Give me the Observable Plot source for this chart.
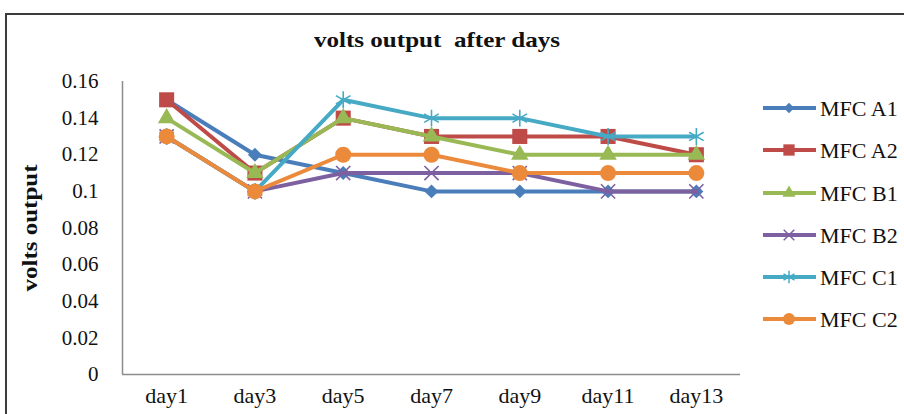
<!DOCTYPE html>
<html>
<head>
<meta charset="utf-8">
<script src="https://cdn.jsdelivr.net/npm/d3@7"></script>
<script src="https://cdn.jsdelivr.net/npm/@observablehq/plot@0.6"></script>
<style>
  html, body { margin: 0; padding: 0; background: #fff; }
  #wrap { position: relative; width: 904px; height: 414px; overflow: hidden; background: #fff; font-family: "Liberation Serif", serif; }
  #chart { position: absolute; left: 0; top: 0; }
  #border { position: absolute; left: 5px; top: 13px; width: 1000px; height: 600px; border-left: 2px solid #3c3c3c; border-top: 2px solid #3c3c3c; pointer-events: none; }
  #title { position: absolute; left: 0; width: 874px; top: 27px; text-align: center; font-weight: bold; font-size: 22px; color: #111; transform: scaleX(1.14); transform-origin: 437px 50%; }
  #ylabel { position: absolute; left: 30px; top: 228px; transform: translate(-50%, -50%) rotate(-90deg) scaleX(1.25); font-weight: bold; font-size: 20px; white-space: nowrap; color: #111; }
  #legend { position: absolute; left: 0; top: 0; }
</style>
</head>
<body>
<div id="wrap">
  <div id="chart"></div>
  <div id="title">volts output&nbsp; after days</div>
  <div id="ylabel">volts output</div>
  <svg id="legend" width="904" height="414"></svg>
  <div id="border"></div>
</div>
<script>
const days = ["day1", "day3", "day5", "day7", "day9", "day11", "day13"];
const seriesNames = ["MFC A1", "MFC A2", "MFC B1", "MFC B2", "MFC C1", "MFC C2"];
const mfcA1 = [0.15, 0.12, 0.11, 0.10, 0.10, 0.10, 0.10];
const mfcA2 = [0.15, 0.11, 0.14, 0.13, 0.13, 0.13, 0.12];
const mfcB1 = [0.14, 0.11, 0.14, 0.13, 0.12, 0.12, 0.12];
const mfcB2 = [0.13, 0.10, 0.11, 0.11, 0.11, 0.10, 0.10];
const mfcC1 = [0.13, 0.10, 0.15, 0.14, 0.14, 0.13, 0.13];
const mfcC2 = [0.13, 0.10, 0.12, 0.12, 0.11, 0.11, 0.11];
const yTicks = [0, 0.02, 0.04, 0.06, 0.08, 0.1, 0.12, 0.14, 0.16];

const allValues = [mfcA1, mfcA2, mfcB1, mfcB2, mfcC1, mfcC2];
const colors = ["#4a7ebb", "#be4b48", "#98b954", "#7d60a0", "#46aac5", "#ec8a3c"];
const symbols = ["diamond2", "square", "triangle", "times", "asterisk", "circle"];
const filled = [true, true, true, false, false, true];
const radii = [6.3, 8.5, 6.5, 6.5, 8, 8];

const rows = [];
seriesNames.forEach((s, k) => allValues[k].forEach((v, i) => rows.push({series: s, k, i, day: days[i], value: v})));

const marks = [
  Plot.ruleY([0], {stroke: "#8c8c8c", strokeWidth: 1.5}),
  Plot.ruleX([-0.5], {stroke: "#8c8c8c", strokeWidth: 1.5})
];
seriesNames.forEach((s, k) => {
  const data = rows.filter(d => d.k === k);
  marks.push(Plot.line(data, {x: "i", y: "value", stroke: colors[k], strokeWidth: 4}));
  marks.push(Plot.dot(data, {
    x: "i", y: "value", symbol: () => symbols[k], r: radii[k],
    fill: filled[k] ? colors[k] : "none",
    stroke: filled[k] ? "none" : colors[k],
    strokeWidth: filled[k] ? 0 : 1.6
  }));
});

const chart = Plot.plot({
  width: 904,
  height: 414,
  marginLeft: 122,
  marginRight: 164,
  marginTop: 81,
  marginBottom: 40,
  style: {background: "transparent", fontFamily: "Liberation Serif, serif", fontSize: "21px", color: "#111"},
  symbol: {type: "identity"},
  x: {type: "linear", domain: [-0.5, 6.5], ticks: d3.range(days.length), tickFormat: i => days[i], tickSize: 0, tickPadding: 13, label: null},
  y: {domain: [0, 0.16], ticks: yTicks, tickFormat: d => String(+d.toFixed(2)), tickSize: 0, tickPadding: 24, label: null},
  marks
});
document.getElementById("chart").appendChild(chart);
// x tick labels slightly larger than y tick labels
d3.select(chart).selectAll("[aria-label='x-axis tick label'], g[aria-label='x-axis'] text").attr("font-size", 22);

// legend
const leg = d3.select("#legend");
const rowY = [108, 150, 193, 235, 277, 319];
const symMap = {diamond2: d3.symbolDiamond2, square: d3.symbolSquare, triangle: d3.symbolTriangle, times: d3.symbolTimes, asterisk: d3.symbolAsterisk, circle: d3.symbolCircle};
seriesNames.forEach((s, k) => {
  const g = leg.append("g").attr("transform", `translate(0,${rowY[k]})`);
  g.append("line").attr("x1", 763).attr("x2", 816).attr("y1", 0).attr("y2", 0).attr("stroke", colors[k]).attr("stroke-width", 4);
  const r = radii[k] * 0.75;
  g.append("path").attr("transform", "translate(789,0)")
    .attr("d", d3.symbol(symMap[symbols[k]], Math.PI * r * r)())
    .attr("fill", filled[k] ? colors[k] : "none")
    .attr("stroke", filled[k] ? "none" : colors[k])
    .attr("stroke-width", 1.5);
  g.append("text").attr("x", 820).attr("y", 0).attr("dy", "0.35em")
    .attr("font-family", "Liberation Serif, serif").attr("font-size", 22).attr("fill", "#111").text(s);
});
</script>
</body>
</html>
